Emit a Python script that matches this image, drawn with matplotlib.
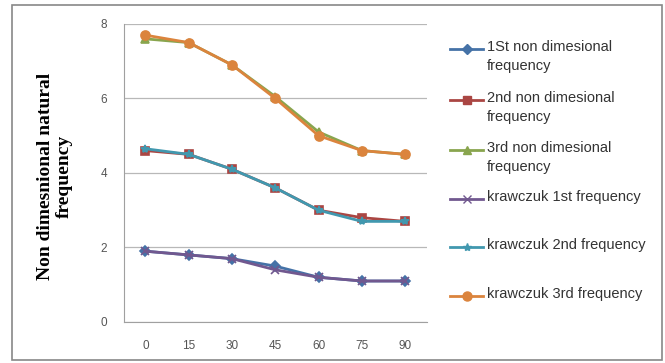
import numpy as np
import matplotlib
matplotlib.use("Agg")
import matplotlib.pyplot as plt
from matplotlib.lines import Line2D
from matplotlib.patches import Rectangle

angles = ["0", "15", "30", "45", "60", "75", "90"]
first_nd = [1.9, 1.8, 1.7, 1.5, 1.2, 1.1, 1.1]
second_nd = [4.6, 4.5, 4.1, 3.6, 3.0, 2.8, 2.7]
third_nd = [7.6, 7.5, 6.9, 6.05, 5.1, 4.6, 4.5]
kraw_first = [1.9, 1.8, 1.7, 1.4, 1.2, 1.1, 1.1]
kraw_second = [4.65, 4.5, 4.1, 3.6, 3.0, 2.7, 2.7]
kraw_third = [7.7, 7.5, 6.9, 6.0, 5.0, 4.6, 4.5]

labels = ["1St non dimesional\nfrequency", "2nd non dimesional\nfrequency",
          "3rd non dimesional\nfrequency", "krawczuk 1st frequency",
          "krawczuk 2nd frequency", "krawczuk 3rd frequency"]
series = [first_nd, second_nd, third_nd, kraw_first, kraw_second, kraw_third]
colors = ["#4572A7", "#AA4643", "#89A54E", "#71588F", "#4198AF", "#DB843D"]
markers = ["D", "s", "^", "x", "*", "o"]
msizes = [5, 6, 6, 6, 6, 6.5]

fig = plt.figure(figsize=(6.65, 3.63), dpi=100)
ax = fig.add_axes([0.186, 0.113, 0.456, 0.821])

x = np.arange(len(angles))
for vals, c, m, ms in zip(series, colors, markers, msizes):
    ax.plot(x, vals, color=c, marker=m, markersize=ms, linewidth=2,
            markeredgecolor=c, markeredgewidth=1.2)

ax.set_xlim(-0.5, len(angles) - 0.5)
ax.set_ylim(0, 8)
ax.set_yticks([0, 2, 4, 6, 8])
ax.set_xticks(x)
ax.set_xticklabels(angles)
ax.grid(axis="y", color="#B8B8B8", linewidth=0.9)
ax.set_axisbelow(True)
for s in ["top", "right"]:
    ax.spines[s].set_visible(False)
for s in ["left", "bottom"]:
    ax.spines[s].set_color("#A0A0A0")
ax.tick_params(length=0, labelsize=8.5, colors="#555555")
ax.tick_params(axis="x", pad=13)
ax.tick_params(axis="y", pad=12)
for t in ax.get_xticklabels() + ax.get_yticklabels():
    t.set_family("Liberation Sans")

ax.set_ylabel("Non dimesnional natural\nfrequency", family="Liberation Serif",
              fontweight="bold", fontsize=14, linespacing=1.15)
ax.yaxis.set_label_coords(-0.168, 0.49)

# legend drawn by hand so the marker sits on the first text line
ytop = [49, 100, 150, 199, 247, 296]
for lab, c, m, ms, yp in zip(labels, colors, markers, msizes, ytop):
    yf = 1 - yp / 363
    fig.add_artist(Line2D([450 / 665, 483 / 665], [yf, yf], color=c, linewidth=2,
                          transform=fig.transFigure))
    fig.add_artist(Line2D([466.5 / 665], [yf], color=c, marker=m, markersize=ms,
                          markeredgecolor=c, transform=fig.transFigure))
    fig.text(487 / 665, yf + 9 / 363, lab, va="top", ha="left", fontsize=10.5,
             family="Liberation Sans", color="#333333", linespacing=1.45)

fig.add_artist(Rectangle((12 / 665, 3 / 363), 650 / 665, 355 / 363, fill=False,
                         edgecolor="#888888", linewidth=1.2, transform=fig.transFigure))

fig.savefig("out.png", dpi=100)
